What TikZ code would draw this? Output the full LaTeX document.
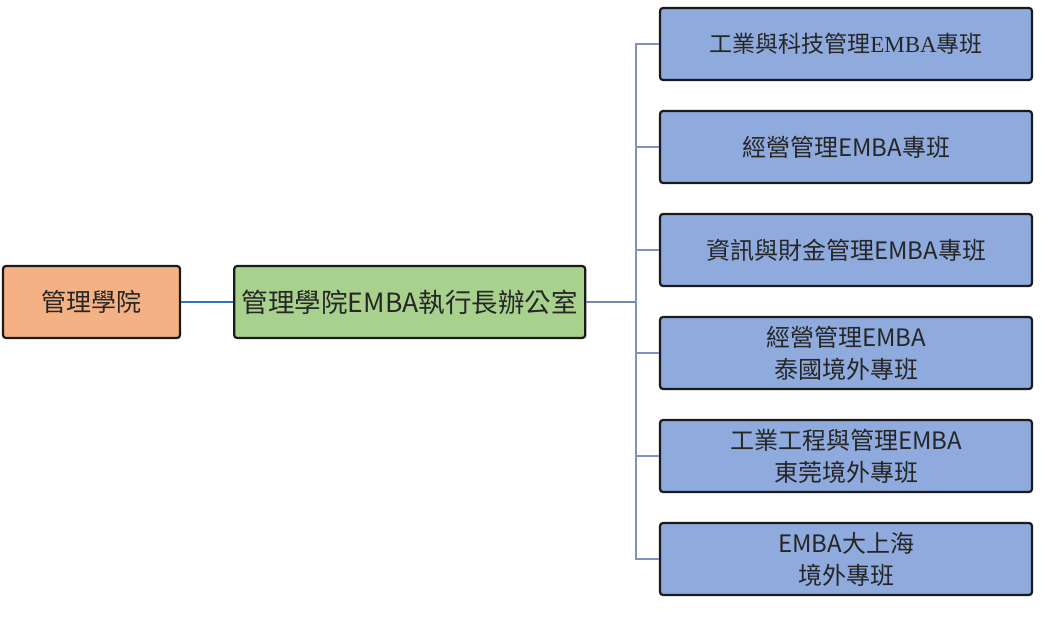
\documentclass[tikz,border=0pt]{standalone}
\usepackage{fontspec}
\newfontfamily\cjk{Noto Sans CJK TC}
\newfontfamily\cjkSerif{Liberation Serif}
\usepackage{tikz}
\usetikzlibrary{positioning}
\definecolor{deanOrange}{HTML}{F4B183}
\definecolor{officeGreen}{HTML}{A9D18E}
\definecolor{classBlue}{HTML}{8FAADC}
\definecolor{boxEdge}{HTML}{1A1A1A}
\definecolor{linkBlue}{HTML}{2E75B6}
\definecolor{treeBlue}{HTML}{7F93C0}
\newcommand{\classGap}{28.8pt}
\tikzset{
  unitbox/.style={draw=boxEdge,line width=2.2pt,rounded corners=3pt,minimum height=72pt,
    inner sep=2pt,align=center,text=black!85,font=\cjk\fontsize{24}{32}\selectfont},
  classbox/.style={unitbox,fill=classBlue,minimum width=372pt},
  link/.style={line width=1.4pt}
}

\begin{document}
\begin{tikzpicture}[x=1pt,y=-1pt]
\useasboundingbox (0,0) rectangle (1062,618);
\node[unitbox,fill=deanOrange,minimum width=177pt,font=\cjk\fontsize{25}{30}\selectfont] (dean) at (91.5,302) {管理學院};
\node[unitbox,fill=officeGreen,minimum width=351pt,font=\cjk\fontsize{26.5}{30}\selectfont,right=52pt of dean] (office) {管理學院EMBA執行長辦公室};
\node[classbox,font=\cjk\fontsize{23}{32}\selectfont] (techClass) at (846,44) {工業與科技管理{\cjkSerif EMBA}專班};
\node[classbox,below=\classGap of techClass] (bizClass) {經營管理EMBA專班};
\node[classbox,below=\classGap of bizClass] (finClass) {資訊與財金管理EMBA專班};
\node[classbox,below=\classGap of finClass] (thaiClass) {經營管理EMBA\\泰國境外專班};
\node[classbox,below=\classGap of thaiClass] (dgClass) {工業工程與管理EMBA\\東莞境外專班};
\node[classbox,below=\classGap of dgClass] (shClass) {EMBA大上海\\境外專班};
\coordinate (trunk) at (636,302);
\draw[link,linkBlue] (dean) -- (office);
\draw[link,classBlue!80!black] (office) -- (trunk);
\draw[link,treeBlue] (trunk) |- (techClass);
\draw[link,treeBlue] (trunk) |- (bizClass);
\draw[link,treeBlue] (trunk) |- (finClass);
\draw[link,treeBlue] (trunk) |- (thaiClass);
\draw[link,treeBlue] (trunk) |- (dgClass);
\draw[link,treeBlue] (trunk) |- (shClass);
\end{tikzpicture}
\end{document}
